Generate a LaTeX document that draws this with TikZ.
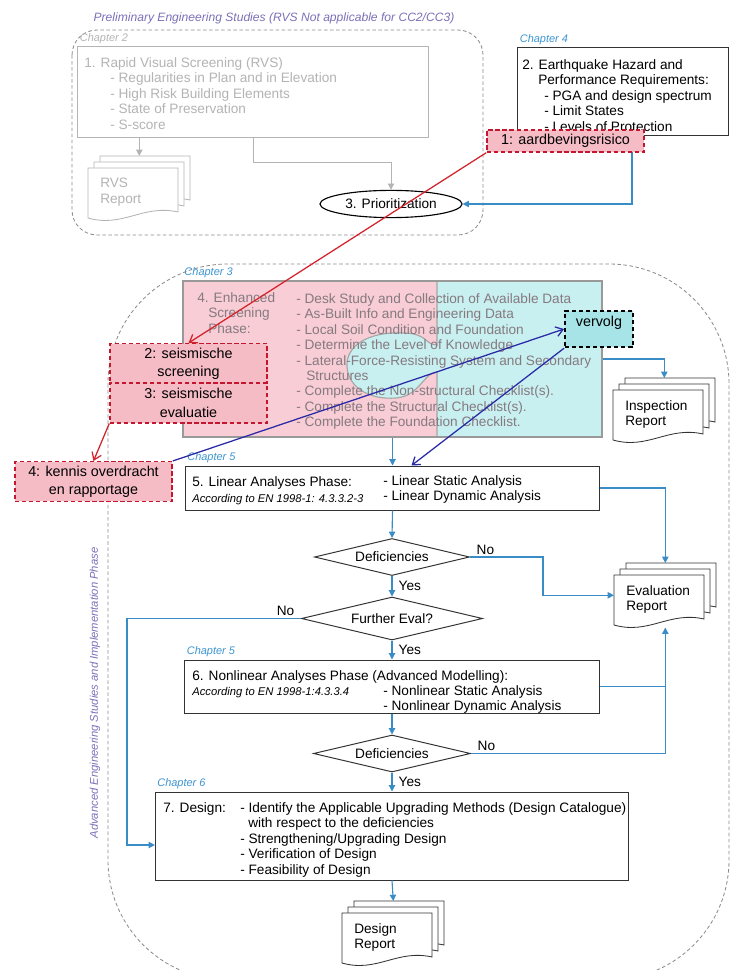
\documentclass[tikz,border=0pt]{standalone}
\usepackage{fontspec}
\setmainfont{Liberation Sans}
\usetikzlibrary{arrows.meta,positioning,shapes.geometric,calc}
\definecolor{flowblue}{HTML}{3A8CC6}
\definecolor{chapblue}{HTML}{3D95CF}
\definecolor{phase}{HTML}{7A70B8}
\definecolor{rvsgrey}{HTML}{B4B4B4}
\definecolor{framegrey}{HTML}{8C8C8C}
\definecolor{redline}{HTML}{D3242C}
\definecolor{redfill}{HTML}{F6BCC6}
\definecolor{redborder}{HTML}{C4162E}
\definecolor{navy}{HTML}{2A2AA6}
\definecolor{puzpink}{HTML}{F8CDD5}
\definecolor{puzcyan}{HTML}{C9F0F0}
\definecolor{verfill}{HTML}{A6E4E7}
\definecolor{puztext}{HTML}{857A80}

% stack of report sheets: [style]{name}{x}{y of front sheet}{text}
\newcommand{\repdoc}[5][docsheet]{%
  \foreach \o in {12,6,0}
    \filldraw[#1, shift={(#3+\o,#4-\o)}] (0,0) -- (90,0) -- (90,44) .. controls (55,36) and (35,60) .. (0,50) -- cycle;
  \node[inner sep=0pt, minimum width=2.55cm, minimum height=1.6cm, anchor=north west] (#2) at (#3,#4-12) {};
  \node[#1 text] (#2-t) at (#3+12,#4+10) {#5};
}

\begin{document}
\begin{tikzpicture}[x=0.025cm, y=-0.025cm,
  every node/.style={font=\fontsize{9.7}{11}\selectfont},
  box/.style={draw=black!80, line width=0.7pt, fill=white, inner sep=0pt},
  txt/.style={align=left, inner sep=0pt, anchor=north west},
  eclabel/.style={font=\fontsize{8}{9}\selectfont\itshape, inner sep=0pt, anchor=north west},
  chap/.style={font=\fontsize{7.8}{9}\selectfont\itshape, text=chapblue, anchor=south west, inner sep=1.5pt},
  phase/.style={font=\fontsize{8.6}{10}\selectfont\itshape, text=phase},
  phaseframe/.style={draw=framegrey, dash pattern=on 2.5pt off 1.8pt, line width=0.6pt},
  decision/.style={diamond, draw=black!80, line width=0.7pt, aspect=4, inner sep=0pt, fill=white},
  taskbox/.style={draw=redborder, dash pattern=on 3pt off 2pt, line width=1pt, fill=redfill, font=\fontsize{10.2}{13}\selectfont, align=center, inner sep=0pt, minimum width=3.925cm},
  docsheet/.style={draw=black!80, fill=white, line width=0.6pt},
  docsheet text/.style={txt},
  rvsdoc/.style={draw=rvsgrey, fill=white, line width=0.6pt},
  rvsdoc text/.style={txt, text=rvsgrey},
  yeslbl/.style={inner sep=1.5pt, anchor=west, xshift=1mm, text=black},
  nolbl/.style={inner sep=1.5pt, anchor=south west, xshift=1mm, text=black},
  flowline/.style={line width=0.8pt, flowblue},
  arr/.style={-{Triangle[length=4.5pt,width=4.5pt]}, line width=0.8pt, flowblue},
  garr/.style={-{Triangle[length=4.5pt,width=4.5pt]}, line width=0.7pt, rvsgrey},
  rarr/.style={-{Straight Barb[length=5pt,width=7pt]}, line width=0.9pt, redline},
  narr/.style={-{Straight Barb[length=5pt,width=7pt]}, line width=0.9pt, navy}]
\useasboundingbox (0,0) rectangle (732,970);
\clip (0,0) rectangle (732,970);

% phases
\draw[phaseframe, rounded corners=0.625cm] (72,30) rectangle (483,235);
\draw[phaseframe, rounded corners=3cm] (108,264) rectangle (729,980);
\node[phase] (prelim) at (274,18) {Preliminary Engineering Studies (RVS Not applicable for CC2/CC3)};
\node[phase, font=\fontsize{8}{10}\selectfont\itshape, rotate=90] (advanced) at (95,693) {Advanced Engineering Studies and Implementation Phase};

% chapter 2
\node[box, draw=rvsgrey, minimum width=8.75cm, minimum height=2.25cm] (rvs) at (253,92) {};
\node[chap, text=rvsgrey] (ch2) at (rvs.north west) {Chapter 2};
\node[txt, text=rvsgrey] (rvs-t) at (84,57) {1. Rapid Visual Screening (RVS)\\\hspace*{6.5mm}- Regularities in Plan and in Elevation\\\hspace*{6.5mm}- High Risk Building Elements\\\hspace*{6.5mm}- State of Preservation\\\hspace*{6.5mm}- S-score};
\repdoc[rvsdoc]{rvsrep}{88}{168}{RVS\\Report}
\node[draw=black, line width=0.8pt, ellipse, fill=white, inner sep=0pt, minimum width=3.55cm, minimum height=0.68cm] (prio) at (391,204) {3. Prioritization};
\draw[garr] (rvs.south -| rvsrep.north) -- (rvsrep.north);
\draw[garr] (rvs.south) -- ++(0,25) -| (prio.north);

% chapter 4
\node[box, minimum width=5.25cm, minimum height=2.175cm] (hazard) at (623,91.5) {};
\node[chap] (ch4) at (hazard.north west) {Chapter 4};
\node[txt] (hazard-t) at (522,59) {2. Earthquake Hazard and\\\hspace*{4mm}Performance Requirements:\\\hspace*{5.5mm}- PGA and design spectrum\\\hspace*{5.5mm}- Limit States\\\hspace*{5.5mm}- Levels of Protection};
\draw[arr] ($(hazard.south)+(9,0)$) |- (prio.east);

% chapter 3, puzzle box
\fill[puzpink] (183,281) rectangle (437,437);
\fill[puzcyan] (437,281) rectangle (602,437);
\fill[puzcyan] (437,345) .. controls (425,345) and (428,334) .. (405,333) .. controls (368,331) and (346,346) .. (347,366) .. controls (348,388) and (370,400) .. (396,398) .. controls (420,396) and (424,372) .. (437,372) -- cycle;
\draw[black!35, line width=0.8pt] (437,281) -- (437,345) .. controls (425,345) and (428,334) .. (405,333) .. controls (368,331) and (346,346) .. (347,366) .. controls (348,388) and (370,400) .. (396,398) .. controls (420,396) and (424,372) .. (437,372) -- (437,437);
\node[box, fill=none, draw=black!40, line width=1.2pt, minimum width=10.475cm, minimum height=3.9cm] (enhanced) at (392.5,359) {};
\node[chap] (ch3) at (enhanced.north west) {Chapter 3};
\node[txt, text=puztext] (enhanced-a) at (197,292) {4. Enhanced\\\hspace*{2.75mm}Screening\\\hspace*{2.75mm}Phase:};
\node[txt, text=puztext] (enhanced-b) at (296,293) {- Desk Study and Collection of Available Data\\- As-Built Info and Engineering Data\\- Local Soil Condition and Foundation\\- Determine the Level of Knowledge\\- Lateral-Force-Resisting System and Secondary\\\hspace*{2.5mm}Structures\\- Complete the Non-structural Checklist(s).\\- Complete the Structural Checklist(s).\\- Complete the Foundation Checklist.};
\node[draw=black, dash pattern=on 3pt off 2pt, line width=1.3pt, fill=verfill, minimum width=1.7cm, inner sep=2pt, text height=9pt, text depth=13pt, font=\fontsize{10.2}{12}\selectfont] (vervolg) at (599,329) {vervolg};
\repdoc{insp}{613}{390}{Inspection\\Report}
\draw[arr] (enhanced.east) -| (insp.north);

% chapter 5, linear
\node[box, minimum width=10.35cm, minimum height=1.1cm] (linear) at (392.5,488) {};
\node[chap] (ch5a) at (linear.north west) {Chapter 5};
\node[txt] (linear-a) at (192,476) {5. Linear Analyses Phase:};
\node[eclabel] (linear-c) at (192,494) {According to EN 1998-1: 4.3.3.2-3};
\node[txt] (linear-b) at (383,475) {- Linear Static Analysis\\- Linear Dynamic Analysis};
\repdoc{evalrep}{614}{575}{Evaluation\\Report}
\draw[arr] (enhanced.south) -- (linear.north);
\draw[arr] (linear.east) -| (evalrep.north);

\node[decision, minimum width=3.875cm, minimum height=0.925cm] (defic1) at (392,557) {Deficiencies};
\node[decision, minimum width=4.525cm, minimum height=1.075cm] (further) at (392,618.5) {Further Eval?};

% chapter 5, nonlinear
\node[box, minimum width=10.35cm, minimum height=1.325cm] (nonlin) at (392,686.5) {};
\node[chap] (ch5b) at (nonlin.north west) {Chapter 5};
\node[txt] (nonlin-a) at (192,670) {6. Nonlinear Analyses Phase (Advanced Modelling):};
\node[eclabel] (nonlin-c) at (192,687) {According to EN 1998-1:4.3.3.4};
\node[txt] (nonlin-b) at (383,685) {- Nonlinear Static Analysis\\- Nonlinear Dynamic Analysis};
\node[decision, minimum width=3.925cm, minimum height=0.925cm] (defic2) at (392,753.5) {Deficiencies};

% chapter 6
\node[box, minimum width=11.825cm, minimum height=2.2cm] (design) at (392,836) {};
\node[chap] (ch6) at (design.north west) {Chapter 6};
\node[txt] (design-a) at (163,802) {7. Design:};
\node[txt] (design-b) at (240,802) {- Identify the Applicable Upgrading Methods (Design Catalogue)\\\hspace*{2mm}with respect to the deficiencies\\- Strengthening/Upgrading Design\\- Verification of Design\\- Feasibility of Design};
\repdoc{desrep}{342}{913}{Design\\Report}

\draw[arr] (linear.south) -- (defic1.north);
\draw[arr] (defic1.east) node[nolbl] (no1) {No} -- ++(73,0) |- (evalrep.west);
\draw[arr] (defic1.south) -- node[yeslbl] (yes1) {Yes} (further.north);
\draw[arr] (further.west) node[nolbl, anchor=south east, xshift=-2mm] (no2) {No} -- ++(-174,0) |- ($(design.west)+(0,9)$);
\draw[arr] (further.south) -- node[yeslbl] (yes2) {Yes} (nonlin.north);
\draw[arr] (nonlin.south) -- (defic2.north);
\draw[arr] (defic2.east) node[nolbl] (no3) {No} -| (evalrep.south);
\draw[flowline] (nonlin.east) -- (nonlin.east -| evalrep.south);
\draw[arr] (defic2.south) -- node[yeslbl] (yes3) {Yes} (design.north);
\draw[arr] (design.south) -- (desrep.north);

% tasks
\node[taskbox, minimum height=0.55cm] (task1) at (565.5,141) {1: aardbevingsrisico};
\node[taskbox, minimum height=0.99cm] (task2) at (188.5,363.5) {2: seismische\\screening};
\node[taskbox, minimum height=0.99cm] (task3) at (188.5,403) {3: seismische\\evaluatie};
\node[taskbox, minimum height=0.99cm] (task4) at (93.5,481.5) {4: kennis overdracht\\en rapportage};
\draw[rarr] (task1.south west) -- (task2.north);
\draw[rarr] (task3.south west) -- (task4.north);
\draw[narr] (task4.north east) -- (vervolg.west);
\draw[narr] (vervolg.south west) -- ($(linear.north)+(19,0)$);
\end{tikzpicture}
\end{document}
